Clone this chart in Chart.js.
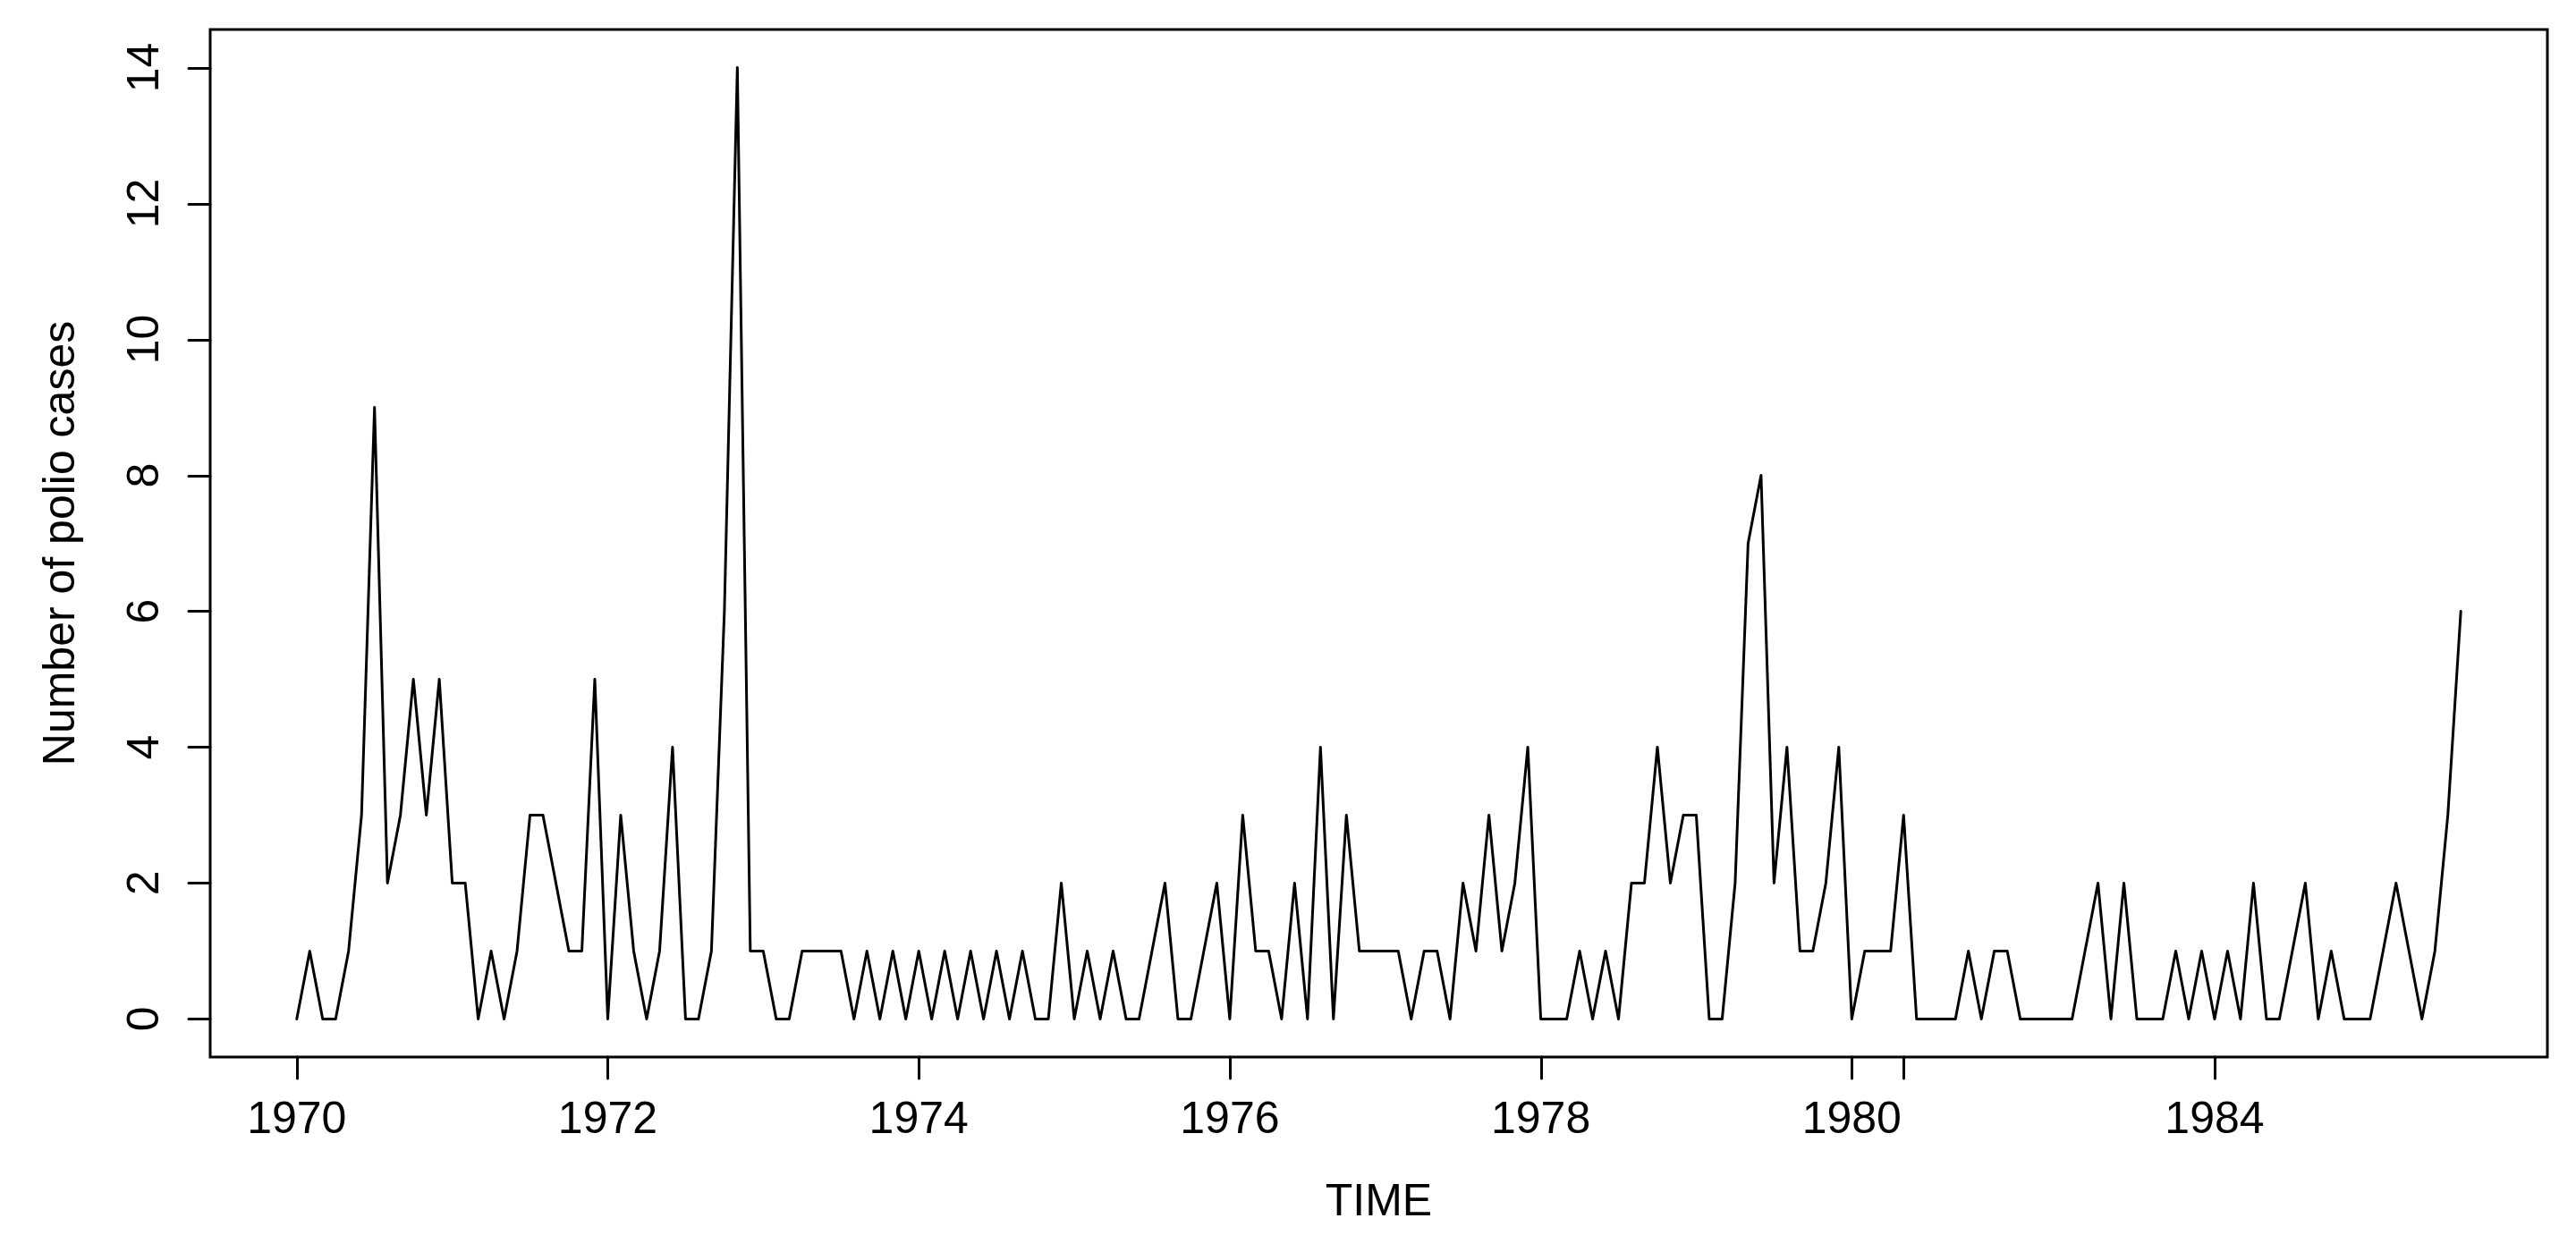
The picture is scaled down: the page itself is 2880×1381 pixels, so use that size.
<!DOCTYPE html>
<html>
<head>
<meta charset="utf-8">
<script src="https://cdn.jsdelivr.net/npm/chart.js@4/dist/chart.umd.min.js"></script>
<style>
  html, body { margin: 0; padding: 0; background: #ffffff; }
  #wrap { width: 2880px; height: 1381px; }
  canvas { display: block; }
</style>
</head>
<body>
<div id="wrap"><canvas id="c" width="2880" height="1381"></canvas></div>
<script>
// ---- Data: monthly polio cases, Jan..Dec of each year ----
const startYear = 1970;
const cases1970 = [0, 1, 0, 0, 1, 3, 9, 2, 3, 5, 3, 5];
const cases1971 = [2, 2, 0, 1, 0, 1, 3, 3, 2, 1, 1, 5];
const cases1972 = [0, 3, 1, 0, 1, 4, 0, 0, 1, 6, 14, 1];
const cases1973 = [1, 0, 0, 1, 1, 1, 1, 0, 1, 0, 1, 0];
const cases1974 = [1, 0, 1, 0, 1, 0, 1, 0, 1, 0, 0, 2];
const cases1975 = [0, 1, 0, 1, 0, 0, 1, 2, 0, 0, 1, 2];
const cases1976 = [0, 3, 1, 1, 0, 2, 0, 4, 0, 3, 1, 1];
const cases1977 = [1, 1, 0, 1, 1, 0, 2, 1, 3, 1, 2, 4];
const cases1978 = [0, 0, 0, 1, 0, 1, 0, 2, 2, 4, 2, 3];
const cases1979 = [3, 0, 0, 2, 7, 8, 2, 4, 1, 1, 2, 4];
const cases1980 = [0, 1, 1, 1, 3, 0, 0, 0, 0, 1, 0, 1];
const cases1981 = [1, 0, 0, 0, 0, 0, 1, 2, 0, 2, 0, 0];
const cases1982 = [0, 1, 0, 1, 0, 1, 0, 2, 0, 0, 1, 2];
const cases1983 = [0, 1, 0, 0, 0, 1, 2, 1, 0, 1, 3, 6];

// ---- Tick labels ----
const xTickValues = [1970, 1972, 1974, 1976, 1978, 1980, 1980 + 1/3, 1982 + 1/3];
const xTickLabels = ["1970", "1972", "1974", "1976", "1978", "1980", "", "1984"];
const yTickValues = [0, 2, 4, 6, 8, 10, 12, 14];
const yTickLabels = ["0", "2", "4", "6", "8", "10", "12", "14"];
const xTitle = "TIME";
const yTitle = "Number of polio cases";

// Build the series from the arrays
const yearly = [cases1970, cases1971, cases1972, cases1973, cases1974, cases1975, cases1976,
                cases1977, cases1978, cases1979, cases1980, cases1981, cases1982, cases1983];
const points = [];
yearly.forEach((arr, yi) => {
  arr.forEach((v, m) => points.push({ x: startYear + yi + m / 12, y: v }));
});

// R-style 4% axis extension
const xs = points.map(p => p.x), ys = points.map(p => p.y);
const xMinD = Math.min(...xs), xMaxD = Math.max(...xs);
const yMinD = Math.min(...ys), yMaxD = Math.max(...ys);
const xPad = (xMaxD - xMinD) * 0.04, yPad = (yMaxD - yMinD) * 0.04;

const FONT = '50px "Liberation Sans", Arial, Helvetica, sans-serif';

const rAxes = {
  id: 'rAxes',
  afterDraw(chart) {
    const ctx = chart.ctx;
    const a = chart.chartArea;
    const sx = chart.scales.x, sy = chart.scales.y;
    ctx.save();
    ctx.strokeStyle = '#000';
    ctx.fillStyle = '#000';
    ctx.lineWidth = 3;
    ctx.lineCap = 'round';
    // box
    ctx.strokeRect(a.left, a.top, a.right - a.left, a.bottom - a.top);
    ctx.font = FONT;
    // x ticks
    const tickLen = 24;
    ctx.beginPath();
    xTickValues.forEach(v => {
      const px = Math.round(sx.getPixelForValue(v)) + 0.5;
      ctx.moveTo(px, a.bottom);
      ctx.lineTo(px, a.bottom + tickLen);
    });
    ctx.stroke();
    ctx.textAlign = 'center';
    ctx.textBaseline = 'alphabetic';
    xTickValues.forEach((v, i) => {
      if (!xTickLabels[i]) return;
      ctx.fillText(xTickLabels[i], sx.getPixelForValue(v), a.bottom + 85);
    });
    // y ticks
    ctx.beginPath();
    yTickValues.forEach(v => {
      const py = Math.round(sy.getPixelForValue(v)) + 0.5;
      ctx.moveTo(a.left, py);
      ctx.lineTo(a.left - tickLen, py);
    });
    ctx.stroke();
    yTickValues.forEach((v, i) => {
      ctx.save();
      ctx.translate(a.left - 58, sy.getPixelForValue(v));
      ctx.rotate(-Math.PI / 2);
      ctx.textAlign = 'center';
      ctx.textBaseline = 'alphabetic';
      ctx.fillText(yTickLabels[i], 0, 0);
      ctx.restore();
    });
    // titles
    ctx.textAlign = 'center';
    ctx.fillText(xTitle, (a.left + a.right) / 2, a.bottom + 177);
    ctx.save();
    ctx.translate(83, (a.top + a.bottom) / 2);
    ctx.rotate(-Math.PI / 2);
    ctx.textAlign = 'center';
    ctx.fillText(yTitle, 0, 0);
    ctx.restore();
    ctx.restore();
  }
};

new Chart(document.getElementById('c'), {
  type: 'line',
  data: {
    datasets: [{
      data: points,
      borderColor: '#000000',
      borderWidth: 3,
      pointRadius: 0,
      tension: 0,
      fill: false,
      borderJoinStyle: 'round',
      borderCapStyle: 'round'
    }]
  },
  options: {
    responsive: false,
    animation: false,
    devicePixelRatio: 1,
    parsing: true,
    layout: { padding: { left: 235, top: 33, right: 32, bottom: 199 } },
    plugins: { legend: { display: false }, tooltip: { enabled: false }, title: { display: false } },
    scales: {
      x: { type: 'linear', min: xMinD - xPad, max: xMaxD + xPad, display: false },
      y: { type: 'linear', min: yMinD - yPad, max: yMaxD + yPad, display: false }
    }
  },
  plugins: [rAxes]
});
</script>
</body>
</html>
